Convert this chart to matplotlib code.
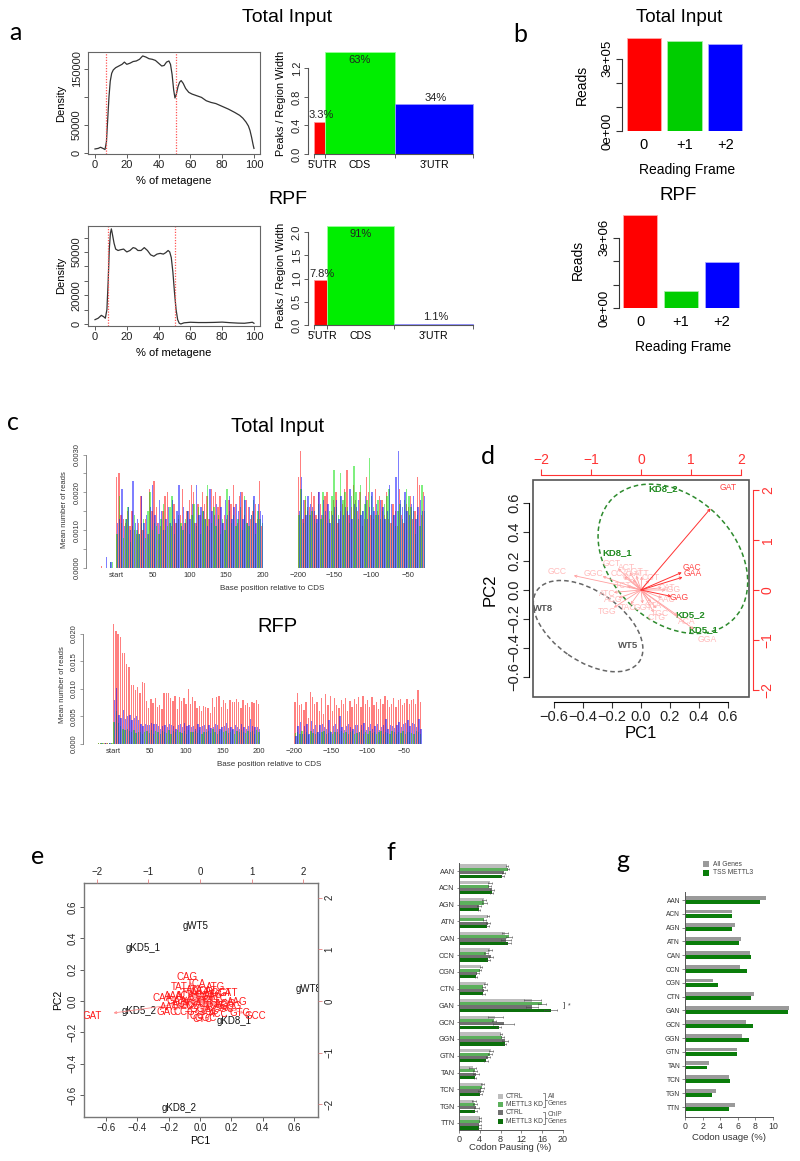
import matplotlib
matplotlib.use("Agg")
import matplotlib.pyplot as plt
import numpy as np
from matplotlib.patches import Ellipse, Rectangle
from matplotlib.lines import Line2D

plt.rcParams['font.family'] = ['Liberation Sans', 'DejaVu Sans']

# ---------------- data ----------------
# a: metagene density (x in % of metagene, density in thousands)
ti_meta_x = [0, 2, 3.5, 5, 6.3, 7.2, 8, 8.8, 9.6, 10.5, 11.5, 13, 15, 17, 18.5, 20, 22, 24, 26, 28,
             30, 32, 34, 36, 38, 40, 42, 43.5, 45, 46.5, 47.5, 48.5, 49.5, 50.3, 51.2, 52.2, 53.2, 54.2, 55.5, 57,
             59, 61, 64, 67, 70, 73, 76, 80, 84, 88, 91, 93, 95, 96.5, 97.5, 98.5, 99.5, 100]
ti_meta_y = [7, 8, 10, 8, 6, 20, 60, 100, 128, 142, 148, 152, 155, 158, 162, 158, 160, 163, 164, 167,
             173, 171, 168, 167, 165, 160, 155, 156, 162, 164, 158, 140, 112, 98, 105, 118, 126, 129, 124, 115,
             108, 105, 102, 99, 93, 90, 88, 83, 78, 72, 67, 62, 55, 48, 40, 28, 14, 8]
rpf_meta_x = [0, 2, 4, 5.5, 6.5, 7.5, 8.3, 9, 9.7, 10.3, 11, 12, 13, 14.5, 16, 18, 20, 22, 24, 25.5,
              27, 29, 31, 33, 35, 37, 39, 41, 43, 44.5, 46, 47, 48, 49, 50, 51, 52, 53, 54, 56,
              60, 65, 70, 75, 80, 85, 90, 94, 97, 99, 100]
rpf_meta_y = [3, 4, 6, 5, 4, 10, 30, 52, 63, 66, 62, 56, 52, 51, 51.5, 52, 50, 51, 53, 52.5,
              51, 51, 53, 51, 48, 47, 48.5, 49, 48.5, 49.5, 51, 50, 46, 36, 22, 10, 3, 0.5, 0, 0.8,
              1.2, 1.0, 1.0, 1.1, 1.3, 0.9, 0.6, 0.5, 0.9, 1.2, 0.5]
ti_cds_bounds = [7.0, 50.7]
rpf_cds_bounds = [8.0, 50.5]

region_names = ["5'UTR", "CDS", "3'UTR"]
ti_region_width = [6.9, 44.0, 49.1]
ti_region_height = [0.45, 1.43, 0.70]
ti_region_pct = ['3.3%', '63%', '34%']
rpf_region_width = [8.0, 42.6, 49.4]
rpf_region_height = [0.96, 2.13, 0.022]
rpf_region_pct = ['7.8%', '91%', '1.1%']

# b: reads per reading frame
frame_names = ['0', '+1', '+2']
ti_frame_reads = [3.86e5, 3.74e5, 3.61e5]
rpf_frame_reads = [3.96e6, 0.73e6, 1.96e6]

# c: mean reads per codon (x1e-4), frames 0 / +1 / +2, start side (0..198) and stop side (-200..-29)
ti_start_f0 = [24, 25, 14, 13, 12, 15, 11, 15, 10, 9, 12, 19, 10, 13, 9, 21, 15, 23, 16, 12,
               11, 15, 19, 20, 12, 11, 17, 12, 13, 14, 21, 12, 15, 18, 22, 20, 12, 17, 14, 20,
               17, 19, 13, 21, 19, 20, 16, 19, 12, 14, 13, 18, 17, 22, 17, 12, 19, 20, 14, 18,
               16, 13, 15, 17, 13, 23, 11]
ti_start_f1 = [9, 19, 12, 8, 13, 16, 7, 11, 14, 10, 9, 12, 13, 8, 15, 20, 10, 12, 11, 9,
               13, 17, 10, 11, 16, 19, 9, 12, 14, 12, 10, 13, 15, 9, 14, 17, 11, 16, 9, 15,
               13, 22, 10, 12, 16, 11, 14, 9, 13, 10, 21, 15, 12, 14, 11, 13, 16, 10, 19, 12,
               11, 14, 18, 9, 15, 13, 12]
ti_start_f2 = [12, 13, 21, 11, 13, 16, 10, 23, 12, 13, 9, 19, 12, 14, 9, 16, 22, 14, 12, 18,
               15, 10, 13, 16, 12, 18, 13, 15, 22, 11, 16, 12, 15, 13, 17, 12, 22, 14, 16, 15,
               13, 11, 21, 15, 14, 17, 13, 16, 12, 18, 14, 19, 13, 16, 17, 15, 20, 13, 18, 12,
               16, 14, 19, 12, 17, 15, 14]
ti_stop_f0 = [24, 31, 13, 18, 15, 16, 20, 19, 14, 20, 17, 14, 19, 20, 13, 15, 18, 20, 12, 15,
              17, 21, 26, 14, 16, 22, 18, 15, 20, 11, 13, 24, 20, 14, 13, 21, 15, 19, 18, 14,
              20, 13, 12, 17, 15, 11, 21, 14, 12, 17, 16, 19, 13, 15, 24, 22, 14, 20]
ti_stop_f1 = [14, 21, 12, 19, 16, 14, 15, 13, 12, 17, 13, 20, 14, 12, 15, 19, 26, 16, 14, 25,
              18, 20, 16, 12, 19, 27, 20, 13, 22, 15, 17, 18, 29, 19, 16, 14, 18, 13, 15, 17,
              19, 21, 12, 14, 11, 15, 17, 13, 18, 21, 19, 16, 15, 9, 14, 11, 22, 15]
ti_stop_f2 = [15, 24, 18, 14, 19, 17, 16, 15, 13, 20, 14, 18, 15, 17, 12, 14, 16, 18, 13, 19,
              14, 16, 15, 21, 13, 17, 16, 18, 14, 15, 19, 13, 16, 20, 15, 17, 14, 18, 16, 13,
              15, 22, 17, 14, 24, 31, 18, 16, 20, 15, 14, 17, 19, 13, 16, 18, 15, 19]
ti_pre_pos = [-21, -15, -9, -6]
ti_pre_f0 = [0.5, 0, 0, 0]
ti_pre_f1 = [0, 0, 1.5, 1.5]
ti_pre_f2 = [0, 3, 1.5, 0]

rfp_start_f0 = [218, 205, 200, 195, 166, 165, 145, 140, 108, 107, 98, 103, 93, 112, 110, 78, 66, 82, 74, 83,
                68, 70, 64, 92, 92, 92, 84, 78, 88, 64, 85, 78, 83, 72, 100, 72, 86, 78, 65, 69,
                60, 69, 67, 66, 56, 83, 68, 85, 87, 68, 80, 74, 64, 80, 76, 76, 81, 76, 66, 80,
                70, 75, 68, 77, 74, 80, 72]
rfp_start_f1 = [40, 60, 38, 32, 27, 25, 28, 24, 22, 25, 20, 22, 21, 18, 22, 24, 20, 25, 19, 23,
                21, 18, 24, 22, 20, 26, 19, 23, 21, 25, 22, 20, 24, 18, 26, 22, 21, 23, 20, 25,
                19, 22, 21, 24, 20, 27, 22, 19, 23, 25, 21, 24, 20, 22, 26, 19, 23, 21, 25, 22,
                20, 24, 21, 23, 19, 25, 22]
rfp_start_f2 = [80, 102, 52, 48, 62, 45, 50, 52, 44, 48, 50, 43, 36, 33, 36, 35, 34, 38, 37, 36,
                33, 27, 32, 34, 30, 36, 35, 32, 28, 34, 36, 30, 38, 32, 34, 30, 32, 28, 36, 30,
                33, 35, 27, 34, 29, 31, 36, 34, 28, 30, 33, 38, 29, 31, 27, 34, 31, 28, 36, 30,
                28, 32, 45, 33, 30, 30, 28]
rfp_stop_f0 = [77, 93, 70, 72, 62, 76, 47, 95, 86, 72, 77, 60, 84, 55, 90, 70, 87, 60, 83, 70,
               65, 80, 72, 84, 60, 78, 67, 82, 73, 85, 68, 87, 73, 80, 67, 86, 70, 77, 63, 82,
               72, 88, 80, 68, 72, 84, 68, 80, 82, 70, 75, 82, 73, 80, 82, 72, 99, 76]
rfp_stop_f1 = [20, 22, 18, 24, 19, 21, 17, 23, 20, 18, 22, 19, 21, 24, 18, 20, 23, 19, 22, 21,
               18, 24, 20, 22, 19, 21, 23, 18, 20, 22, 25, 19, 21, 18, 23, 20, 22, 19, 21, 24,
               18, 22, 20, 19, 23, 21, 18, 22, 20, 24, 19, 21, 22, 20, 18, 23, 21, 19]
rfp_stop_f2 = [15, 33, 40, 19, 32, 37, 18, 42, 28, 34, 22, 35, 36, 30, 28, 44, 22, 33, 36, 28,
               50, 30, 25, 33, 36, 30, 28, 34, 35, 22, 34, 38, 25, 30, 36, 28, 33, 37, 25, 30,
               34, 46, 28, 34, 33, 29, 35, 40, 30, 37, 38, 43, 33, 39, 36, 31, 45, 27]
rfp_pre_pos = [-21, -18, -15, -12, -9, -6, -3]
rfp_pre_f0 = [1, 1, 1, 1, 1, 1, 1]
rfp_pre_f1 = [2, 1, 2, 1, 2, 1, 2]
rfp_pre_f2 = [0, 1, 0, 1, 0, 1, 0]

pos_ticks = [0, 50, 100, 150, 200, -200, -150, -100, -50]
pos_labels = ['start', '50', '100', '150', '200', '\u2212200', '\u2212150', '\u2212100', '\u221250']

# d: PCA biplot
d_samples = ['KD8_2', 'KD8_1', 'KD5_2', 'KD5_1', 'WT8', 'WT5']
d_pc1 = [0.15, -0.165, 0.34, 0.43, -0.675, -0.09]
d_pc2 = [0.70, 0.255, -0.17, -0.275, -0.13, -0.385]
d_group = ['KD', 'KD', 'KD', 'KD', 'WT', 'WT']
d_strong = ['GAT', 'GAC', 'GAA', 'GAG']
d_strong_x = [1.74, 1.02, 1.04, 0.76]
d_strong_y = [2.04, 0.44, 0.32, -0.16]
d_faint = ['GCC', 'GCT', 'GGC', 'CCA', 'ACT', 'AGT', 'ATT', 'CCT', 'ATC', 'ACG',
           'TGG', 'TAC', 'GGT', 'CTG', 'TGC', 'ACA', 'GGA', 'CAT', 'AAC', 'AGG',
           'TCT', 'CGT', 'GTA']
d_faint_x = [-1.68, -0.58, -0.96, -0.42, -0.28, -0.12, 0.02, -0.20, -0.68, -0.56,
             -0.68, -0.26, 0.04, 0.32, 0.38, 0.92, 1.32, 0.52, 0.52, 0.62,
             -0.35, 0.20, 0.25]
d_faint_y = [0.36, 0.54, 0.34, 0.34, 0.44, 0.36, 0.34, 0.26, -0.06, -0.20,
             -0.44, -0.36, -0.34, -0.56, -0.46, -0.64, -0.98, 0.06, -0.20, 0.00,
             0.10, 0.25, -0.30]

# e: PCA biplot (gene level)
e_samples = ['gWT5', 'gKD5_1', 'gWT8', 'gKD5_2', 'gKD8_1', 'gKD8_2']
e_pc1 = [-0.03, -0.36, 0.69, -0.39, 0.22, -0.13]
e_pc2 = [0.48, 0.34, 0.075, -0.065, -0.13, -0.68]
e_codons = ['GAT', 'GAC', 'CAA', 'CAG', 'TAT', 'TCA', 'ATG', 'AAG', 'GTG', 'GCC',
            'AAT', 'CCG', 'TCC', 'CTC', 'GGC', 'ACC', 'CGC', 'AGC', 'TTC', 'GAA',
            'AAA', 'ACA', 'TTA', 'GTA', 'CAT', 'ATC', 'TTT', 'TGT', 'CTT', 'AGA',
            'GGA', 'TAC', 'CCC', 'GCA', 'GTT', 'ACT', 'CGA', 'ATA', 'TCG', 'GCG']
e_load_x = [-2.09, -0.64, -0.72, -0.25, -0.41, -0.06, 0.30, 0.72, 0.77, 1.06,
            -0.60, -0.30, -0.10, 0.05, 0.10, 0.35, 0.45, 0.50, 0.35, -0.45,
            -0.50, -0.30, -0.20, 0.00, 0.15, 0.25, 0.10, 0.20, -0.05, -0.15,
            0.00, 0.20, -0.20, 0.40, 0.55, -0.35, 0.10, -0.10, 0.30, 0.60]
e_load_y = [-0.29, -0.21, 0.06, 0.46, 0.27, 0.33, 0.28, -0.02, -0.23, -0.29,
            -0.12, -0.22, -0.30, -0.35, -0.32, -0.25, -0.15, -0.05, 0.05, 0.00,
            0.10, 0.10, 0.15, 0.18, 0.20, 0.12, 0.00, -0.05, 0.05, -0.05,
            -0.15, -0.20, -0.10, 0.15, 0.15, -0.05, 0.10, 0.22, -0.10, -0.10]

# f: codon pausing (%)
codon_groups = ['AAN', 'ACN', 'AGN', 'ATN', 'CAN', 'CCN', 'CGN', 'CTN',
                'GAN', 'GCN', 'GGN', 'GTN', 'TAN', 'TCN', 'TGN', 'TTN']
pause_ctrl_all = [9.2, 6.0, 4.8, 5.6, 8.9, 5.9, 4.2, 5.1, 14.1, 7.0, 8.1, 6.2, 2.6, 4.6, 2.9, 4.1]
pause_kd_all = [9.4, 5.8, 4.9, 4.9, 9.6, 5.2, 4.0, 4.7, 16.0, 6.8, 8.3, 5.9, 3.1, 4.4, 3.0, 4.0]
pause_ctrl_chip = [8.6, 6.3, 3.9, 5.6, 9.0, 6.2, 3.5, 4.9, 14.0, 8.6, 8.8, 5.6, 3.3, 4.2, 3.3, 3.9]
pause_kd_chip = [8.3, 6.3, 3.9, 5.4, 9.4, 5.5, 3.3, 4.7, 17.6, 7.6, 8.8, 5.2, 3.1, 4.1, 3.0, 3.9]
err_ctrl_all = [0.2, 0.4, 0.3, 0.2, 0.6, 0.4, 0.2, 0.3, 1.6, 1.4, 0.2, 0.4, 0.6, 0.3, 0.4, 0.2]
err_kd_all = [0.2, 0.3, 0.4, 0.3, 0.6, 0.3, 0.2, 0.3, 0.8, 0.4, 0.3, 0.4, 0.4, 0.4, 0.4, 0.2]
err_ctrl_chip = [0.3, 0.4, 0.4, 0.4, 1.0, 0.4, 0.3, 0.4, 1.2, 2.0, 0.6, 0.4, 0.6, 0.5, 0.5, 0.3]
err_kd_chip = [0.3, 0.3, 0.2, 0.3, 0.6, 0.4, 0.2, 0.3, 1.2, 0.5, 0.3, 0.3, 0.2, 0.3, 0.5, 0.3]
pause_legend = ['CTRL', 'METTL3 KD', 'CTRL', 'METTL3 KD']

# g: codon usage (%)
usage_all = [9.24, 5.30, 5.64, 6.40, 7.35, 6.29, 3.22, 7.80, 11.78, 6.97, 6.52, 5.87, 2.69, 5.00, 3.52, 5.68]
usage_tss = [8.52, 5.30, 5.30, 6.14, 7.46, 7.00, 3.71, 7.54, 11.70, 7.73, 7.27, 5.90, 2.46, 5.10, 3.03, 5.00]
usage_legend = ['All Genes', 'TSS METTL3']

# ---------------- layout helpers (pixel boxes) ----------------
W, H = 800, 1161
fig = plt.figure(figsize=(W / 100, H / 100), dpi=100)


def box(l, t, r, b):
    return fig.add_axes([l / W, 1 - b / H, (r - l) / W, (b - t) / H])


def txt(x, y, s, **kw):
    kw.setdefault('ha', 'center')
    kw.setdefault('va', 'center')
    return fig.text(x / W, 1 - y / H, s, **kw)


def letter(x, y, s):
    txt(x, y, s, fontsize=18, family=['Lato', 'DejaVu Sans'])


def rot_yticks(ax):
    for t in ax.get_yticklabels():
        t.set_rotation(90)
        t.set_va('center')


# ---------------- panel a ----------------
def density(rect, x, y, bounds, ylim, yticks, ylabels):
    ax = box(*rect)
    ax.plot(x, np.array(y) * 1000, color='#333333', lw=0.9)
    for b in bounds:
        ax.axvline(b, color='#ff5555', ls=(0, (1, 1.2)), lw=0.9)
    ax.set_xlim(-4.4, 103.8)
    ax.set_ylim(*ylim)
    ax.set_xticks(range(0, 101, 20))
    ax.set_yticks(yticks)
    ax.set_yticklabels(ylabels)
    rot_yticks(ax)
    ax.tick_params(length=3, width=0.6, labelsize=8, pad=1.5, color='#444', labelcolor='#222')
    for s in ax.spines.values():
        s.set_color('#666')
        s.set_linewidth(0.8)
    return ax


region_cols = ['#ff0000', '#00ee00', '#0000ff']
region_edge = ['#ff9999', '#99ff99', '#9999ff']


def regions_panel(rect, widths, heights, pcts, ytop, yticks):
    ax = box(*rect)
    widths = np.array(widths)
    edges = np.concatenate([[0], np.cumsum(widths)])
    ax.bar(edges[:-1], heights, width=widths, align='edge', color=region_cols,
           edgecolor=region_edge, lw=0.6)
    ax.set_xlim(-3.8, 103.8)
    ax.set_ylim(0, ytop)
    for e, w, h, p in zip(edges[:-1], widths, heights, pcts):
        if h > 0.85 * ytop:
            ax.text(e + w / 2, h - 0.03 * ytop, p, ha='center', va='top', fontsize=8, color='#222')
        else:
            ax.text(e + w / 2 + 1, h + 0.015 * ytop, p, ha='center', va='bottom', fontsize=8, color='#222')
    ax.spines[['top', 'right']].set_visible(False)
    ax.spines['left'].set_bounds(0, yticks[-1])
    ax.spines['bottom'].set_bounds(0, edges[-1])
    ax.set_xticks(edges)
    ax.set_xticklabels([])
    centers = edges[:-1] + widths / 2
    centers[0] += 1.5
    ax.set_xticks(centers, minor=True)
    ax.set_xticklabels(region_names, minor=True)
    ax.tick_params(axis='x', which='minor', length=0, pad=4.5, labelsize=7.6)
    ax.set_yticks(yticks)
    ax.set_yticklabels(['%.1f' % v for v in yticks])
    rot_yticks(ax)
    ax.tick_params(axis='y', length=3, width=0.6, labelsize=8, pad=1.5, color='#444', labelcolor='#222')
    ax.tick_params(axis='x', which='major', length=3, width=0.6, color='#444')
    for s in ax.spines.values():
        s.set_color('#555')
        s.set_linewidth(0.8)
    return ax


letter(15, 33, 'a')
txt(287, 18, 'Total Input', fontsize=14)
density((88, 52, 260, 154), ti_meta_x, ti_meta_y, ti_cds_bounds, (-2000, 180000),
        [0, 50000, 100000, 150000], ['0', '50000', '', '150000'])
txt(61, 103, 'Density', fontsize=8, rotation=90)
txt(174, 181, '% of metagene', fontsize=8)
regions_panel((308, 52, 479, 154), ti_region_width, ti_region_height, ti_region_pct, 1.43,
              [0.0, 0.4, 0.8, 1.2])
txt(281, 103, 'Peaks / Region Width', fontsize=7.8, rotation=90)

txt(288, 199, 'RPF', fontsize=14)
density((88, 226, 260, 326), rpf_meta_x, rpf_meta_y, rpf_cds_bounds, (-1400, 68000),
        list(range(0, 60001, 10000)), ['0', '', '20000', '', '', '50000', ''])
txt(61, 275, 'Density', fontsize=8, rotation=90)
txt(174, 353, '% of metagene', fontsize=8)
regions_panel((308, 226, 479, 325), rpf_region_width, rpf_region_height, rpf_region_pct, 2.13,
              [0.0, 0.5, 1.0, 1.5, 2.0])
txt(281, 275, 'Peaks / Region Width', fontsize=7.8, rotation=90)

# ---------------- panel b ----------------
frame_cols = ['#ff0000', '#00cd00', '#0000ff']
frame_edges = ['#ffaaaa', '#aaeeaa', '#aaaaff']


def frame_panel(rect, reads, step, nticks, ylabels):
    ax = box(*rect)
    x = 0.7 + 1.2 * np.arange(len(reads))
    ax.bar(x, reads, width=1, color=frame_cols, edgecolor=frame_edges, lw=0.6)
    ax.set_xlim(0.064, 3.736)
    ax.set_ylim(0, max(reads))
    ax.set_xticks(x)
    ax.set_xticklabels(frame_names)
    ax.tick_params(axis='x', length=0, labelsize=10.5, pad=5)
    ticks = [i * step for i in range(nticks)]
    ax.set_yticks(ticks)
    ax.set_yticklabels(ylabels)
    rot_yticks(ax)
    ax.tick_params(axis='y', length=4, width=0.8, labelsize=9.5, pad=2, color='#333')
    ax.spines[['top', 'right', 'bottom']].set_visible(False)
    ax.spines['left'].set_bounds(0, ticks[-1])
    ax.spines['left'].set_color('#333')
    return ax


letter(520, 35, 'b')
txt(679, 18, 'Total Input', fontsize=13.5)
frame_panel((622, 38, 747, 131), ti_frame_reads, 1e5, 4, ['0e+00', '', '', '3e+05'])
txt(582, 85, 'Reads', fontsize=10, rotation=90)
txt(687, 170, 'Reading Frame', fontsize=10)
txt(678, 195, 'RPF', fontsize=13.5)
frame_panel((618.5, 215, 743.5, 308), rpf_frame_reads, 1e6, 4, ['0e+00', '', '', '3e+06'])
txt(578, 260, 'Reads', fontsize=10, rotation=90)
txt(683, 347, 'Reading Frame', fontsize=10)

# ---------------- panel c ----------------
STOP_OFFSET = 448
frame_rgb = ['#ff0000', '#00e000', '#0000ff']
frame_dx = [0.0, 0.6, 1.2]


def profile(rect, xlim, ytop, start, stop, pre_pos, pre, yticks, ylabels, ybound):
    ax = box(*rect)
    for k in range(3):
        vals = np.array(start[k]) * 1e-4
        ax.bar(np.arange(len(vals)) * 3 + frame_dx[k], vals, width=1.8, align='edge',
               color=frame_rgb[k], alpha=0.5, lw=0)
        vals = np.array(stop[k]) * 1e-4
        ax.bar(-200 + np.arange(len(vals)) * 3 + STOP_OFFSET + frame_dx[k], vals, width=1.8, align='edge',
               color=frame_rgb[k], alpha=0.5, lw=0)
        ax.bar(np.array(pre_pos) + frame_dx[k], np.array(pre[k]) * 1e-4, width=1.8, align='edge',
               color=frame_rgb[k], alpha=0.5, lw=0)
    ax.hlines(0, -22, 200, color='#bbbbbb', lw=0.6)
    ax.hlines(0, -200 + STOP_OFFSET, -12 + STOP_OFFSET, color='#bbbbbb', lw=0.6)
    ax.set_xlim(*xlim)
    ax.set_ylim(0, ytop)
    ax.set_xticks([p if p >= 0 else p + STOP_OFFSET for p in pos_ticks])
    ax.set_xticklabels(pos_labels)
    ax.tick_params(axis='x', length=0, labelsize=5.5, pad=3, labelcolor='#333')
    ax.set_yticks(yticks)
    ax.set_yticklabels(ylabels)
    rot_yticks(ax)
    ax.tick_params(axis='y', length=2.5, width=0.5, labelsize=5.5, pad=1.5, color='#777', labelcolor='#333')
    ax.spines[['top', 'right', 'bottom']].set_visible(False)
    ax.spines['left'].set_bounds(0, ybound)
    ax.spines['left'].set_color('#777')
    ax.spines['left'].set_linewidth(0.6)
    return ax


letter(13, 422, 'c')
txt(278, 427, 'Total Input', fontsize=14.5)
profile((86, 447, 440, 568), (-41, 442), 0.0032,
        [ti_start_f0, ti_start_f1, ti_start_f2], [ti_stop_f0, ti_stop_f1, ti_stop_f2],
        ti_pre_pos, [ti_pre_f0, ti_pre_f1, ti_pre_f2],
        [i * 0.0005 for i in range(7)],
        ['0.0000', '', '0.0010', '', '0.0020', '', '0.0030'], 0.003)
txt(65, 510, 'Mean number of reads', fontsize=5.5, rotation=90, color='#333')
txt(272, 588, 'Base position relative to CDS', fontsize=5.8, color='#333')

txt(277, 627, 'RFP', fontsize=14.5)
profile((83, 624, 440, 744), (-41, 447), 0.0218,
        [rfp_start_f0, rfp_start_f1, rfp_start_f2], [rfp_stop_f0, rfp_stop_f1, rfp_stop_f2],
        rfp_pre_pos, [rfp_pre_f0, rfp_pre_f1, rfp_pre_f2],
        [0, 0.005, 0.010, 0.015, 0.020],
        ['0.000', '0.005', '0.010', '0.015', '0.020'], 0.02)
txt(63, 685, 'Mean number of reads', fontsize=5.5, rotation=90, color='#333')
txt(269, 764, 'Base position relative to CDS', fontsize=5.8, color='#333')

# ---------------- panel d ----------------
letter(488, 457, 'd')
axd = box(533, 480, 749, 697)
axd.set_xlim(-0.745, 0.745)
axd.set_ylim(-0.74, 0.76)
axd.spines[['top', 'right']].set_visible(False)
axd.spines['left'].set_position(('outward', 3))
axd.spines['bottom'].set_position(('outward', 3.6))
axd.spines['left'].set_bounds(-0.6, 0.6)
axd.spines['bottom'].set_bounds(-0.6, 0.6)
ticks = [-0.6, -0.4, -0.2, 0.0, 0.2, 0.4, 0.6]
tick_text = ['%.1f' % t if t >= 0 else '\u2212%.1f' % -t for t in ticks]
axd.set_xticks(ticks)
axd.set_yticks(ticks)
axd.set_xticklabels(tick_text)
axd.set_yticklabels(tick_text)
rot_yticks(axd)
axd.tick_params(length=4, width=0.8, labelsize=10.5, pad=1.5, color='#333', labelcolor='#222')
axd.add_patch(Rectangle((0, 0), 1, 1, transform=axd.transAxes, fill=False, ec='#555', lw=1.2, clip_on=False))
axd.add_patch(Ellipse((0.22, 0.215), 1.18, 0.86, angle=-45, fill=False, ec='#2e8b2e', ls=(0, (3, 2)), lw=1.1))
axd.add_patch(Ellipse((-0.365, -0.25), 0.86, 0.48, angle=-35, fill=False, ec='#666666', ls=(0, (3, 2)), lw=1.1))

axd2 = box(533, 480, 749, 697)
axd2.patch.set_visible(False)
axd2.set_xlim(-2.16, 2.16)
axd2.set_ylim(-2.14, 2.2)
axd2.xaxis.tick_top()
axd2.yaxis.tick_right()
axd2.spines[['left', 'bottom']].set_visible(False)
axd2.spines['top'].set_position(('outward', 3.6))
axd2.spines['right'].set_position(('outward', 3))
axd2.spines['top'].set_bounds(-2, 2)
axd2.spines['right'].set_bounds(-2, 2)
for s in ['top', 'right']:
    axd2.spines[s].set_color('#ff3333')
axd2.set_xticks([-2, -1, 0, 1, 2])
axd2.set_yticks([-2, -1, 0, 1, 2])
axd2.set_xticklabels(['\u22122', '\u22121', '0', '1', '2'])
axd2.set_yticklabels(['\u22122', '\u22121', '0', '1', '2'])
rot_yticks(axd2)
axd2.tick_params(length=4, width=0.8, labelsize=10, pad=1.5, color='#ff3333', labelcolor='#ff3333')

for name, x, y in zip(d_faint, d_faint_x, d_faint_y):
    axd2.annotate('', xy=(0.8 * x, 0.8 * y), xytext=(0, 0),
                  arrowprops=dict(arrowstyle='->', color='#ff9f9f', lw=0.6, shrinkA=0, shrinkB=0, mutation_scale=4))
    axd2.text(x, y, name, color='#ffbcbc', fontsize=6.2, ha='center', va='center')
for name, x, y in zip(d_strong, d_strong_x, d_strong_y):
    axd2.annotate('', xy=(0.8 * x, 0.8 * y), xytext=(0, 0),
                  arrowprops=dict(arrowstyle='->', color='#ff3333', lw=0.7, shrinkA=0, shrinkB=0, mutation_scale=4))
    axd2.text(x, y, name, color='#ff4444', fontsize=6.2, ha='center', va='center')
for name, x, y, g in zip(d_samples, d_pc1, d_pc2, d_group):
    axd.text(x, y, name, color='#1f8a1f' if g == 'KD' else '#555555', fontsize=6.8,
             fontweight='bold', ha='center', va='center')
txt(490, 590, 'PC2', fontsize=12, rotation=90)
txt(641, 733, 'PC1', fontsize=12)

# ---------------- panel e ----------------
letter(38, 857, 'e')
axe = box(84, 883, 318, 1117)
axe.set_xlim(-0.74, 0.753)
axe.set_ylim(-0.739, 0.752)
axe.set_xticks(ticks)
axe.set_yticks(ticks)
axe.set_xticklabels(tick_text)
axe.set_yticklabels(tick_text)
rot_yticks(axe)
axe.tick_params(length=3, width=0.6, labelsize=7, pad=1.5, color='#444', labelcolor='#222')
for s in axe.spines.values():
    s.set_color('#777')
    s.set_linewidth(1.0)

axe2 = box(84, 883, 318, 1117)
axe2.patch.set_visible(False)
axe2.set_xlim(-2.244, 2.282)
axe2.set_ylim(-2.244, 2.282)
axe2.xaxis.tick_top()
axe2.yaxis.tick_right()
for s in axe2.spines.values():
    s.set_visible(False)
axe2.set_xticks([-2, -1, 0, 1, 2])
axe2.set_yticks([-2, -1, 0, 1, 2])
axe2.set_xticklabels(['\u22122', '\u22121', '0', '1', '2'])
axe2.set_yticklabels(['\u22122', '\u22121', '0', '1', '2'])
rot_yticks(axe2)
axe2.tick_params(length=3, width=0.6, labelsize=7, pad=1.5, color='#e08080', labelcolor='#222')
for name, x, y in zip(e_codons, e_load_x, e_load_y):
    axe2.annotate('', xy=(0.8 * x, 0.8 * y), xytext=(0, 0),
                  arrowprops=dict(arrowstyle='->', color='#ff8c8c', lw=0.6, shrinkA=0, shrinkB=0, mutation_scale=4))
for name, x, y in zip(e_codons, e_load_x, e_load_y):
    axe2.text(x, y, name, color='#ff1a1a', fontsize=7, ha='center', va='center', clip_on=True)
for name, x, y in zip(e_samples, e_pc1, e_pc2):
    axe.text(x, y, name, color='#111111', fontsize=7, ha='center', va='center', clip_on=True)
txt(58, 1000, 'PC2', fontsize=7.5, rotation=90)
txt(200, 1141, 'PC1', fontsize=7.5)

# ---------------- panel f ----------------
letter(391, 853, 'f')
axf = box(459, 863, 576, 1130)
f_series = [pause_ctrl_all, pause_kd_all, pause_ctrl_chip, pause_kd_chip]
f_errs = [err_ctrl_all, err_kd_all, err_ctrl_chip, err_kd_chip]
f_cols = ['#bdbdbd', '#5cb05c', '#717171', '#0b700b']
f_offs = [-0.3, -0.1, 0.1, 0.3]
yy = np.arange(len(codon_groups))
for vals, errs, col, off in zip(f_series, f_errs, f_cols, f_offs):
    axf.barh(yy + off, vals, height=0.19, color=col, lw=0)
    axf.errorbar(vals, yy + off, xerr=errs, fmt='none', ecolor='#444', elinewidth=0.4, capsize=0.8, capthick=0.4)
axf.text(20.0, 8.0, ']', fontsize=6, va='center', color='#444')
axf.text(20.9, 8.0, '*', fontsize=5, va='center', color='#444')
axf.set_ylim(15.42, -0.48)
axf.set_xlim(0, 22.5)
axf.set_yticks(yy)
axf.set_yticklabels(codon_groups)
axf.set_xticks([0, 4, 8, 12, 16, 20])
axf.spines[['top', 'right']].set_visible(False)
axf.spines['bottom'].set_bounds(0, 20)
for s in ['left', 'bottom']:
    axf.spines[s].set_color('#555')
    axf.spines[s].set_linewidth(0.7)
axf.tick_params(axis='y', length=1.5, width=0.5, labelsize=5.2, pad=1.5, color='#555', labelcolor='#333')
axf.tick_params(axis='x', length=2, width=0.5, labelsize=6.5, pad=1.5, color='#555', labelcolor='#333')
txt(510, 1148, 'Codon Pausing (%)', fontsize=6.8, color='#333')
for i, (lab, col) in enumerate(zip(pause_legend, f_cols)):
    y = 1096 + 8.4 * i
    fig.add_artist(Rectangle((498 / W, 1 - (y + 2.5) / H), 5 / W, 5 / H, transform=fig.transFigure,
                             color=col, lw=0))
    txt(505.5, y, lab, ha='left', fontsize=4.9, color='#444')
for y0, y1, lab in [(1093, 1107, 'All\nGenes'), (1112, 1124, 'ChIP\nGenes')]:
    fig.add_artist(Line2D([543 / W, 545 / W, 545 / W, 543 / W],
                          [1 - y0 / H, 1 - y0 / H, 1 - y1 / H, 1 - y1 / H],
                          transform=fig.transFigure, color='#555', lw=0.5))
    fig.add_artist(Line2D([545 / W, 547 / W], [1 - (y0 + y1) / 2 / H] * 2,
                          transform=fig.transFigure, color='#555', lw=0.5))
    txt(548, (y0 + y1) / 2, lab, ha='left', fontsize=4.8, color='#555', linespacing=0.9)

# ---------------- panel g ----------------
letter(623, 860, 'g')
axg = box(685, 892, 795, 1117)
yy = np.arange(len(codon_groups))
axg.barh(yy - 0.17, usage_all, height=0.28, color='#9a9a9a', lw=0)
axg.barh(yy + 0.13, usage_tss, height=0.28, color='#0a7d0a', lw=0)
axg.set_ylim(15.72, -0.58)
axg.set_xlim(0, 12.5)
axg.set_yticks(yy)
axg.set_yticklabels(codon_groups)
axg.set_xticks([0, 2, 4, 6, 8, 10])
axg.spines[['top', 'right']].set_visible(False)
axg.spines['bottom'].set_bounds(0, 10)
for s in ['left', 'bottom']:
    axg.spines[s].set_color('#555')
    axg.spines[s].set_linewidth(0.7)
axg.tick_params(axis='y', length=2, width=0.5, labelsize=4.8, pad=1.5, color='#555', labelcolor='#333')
axg.tick_params(axis='x', length=2, width=0.5, labelsize=6.3, pad=1.5, color='#555', labelcolor='#333')
txt(729, 1138, 'Codon usage (%)', fontsize=6.8, color='#333')
for i, (lab, col) in enumerate(zip(usage_legend, ['#9a9a9a', '#0a7d0a'])):
    y = 864 + 9 * i
    fig.add_artist(Rectangle((703 / W, 1 - (y + 3) / H), 6 / W, 6 / H, transform=fig.transFigure,
                             color=col, lw=0))
    txt(713, y, lab, ha='left', fontsize=4.8, color='#444')

fig.savefig('out.png', dpi=100)
